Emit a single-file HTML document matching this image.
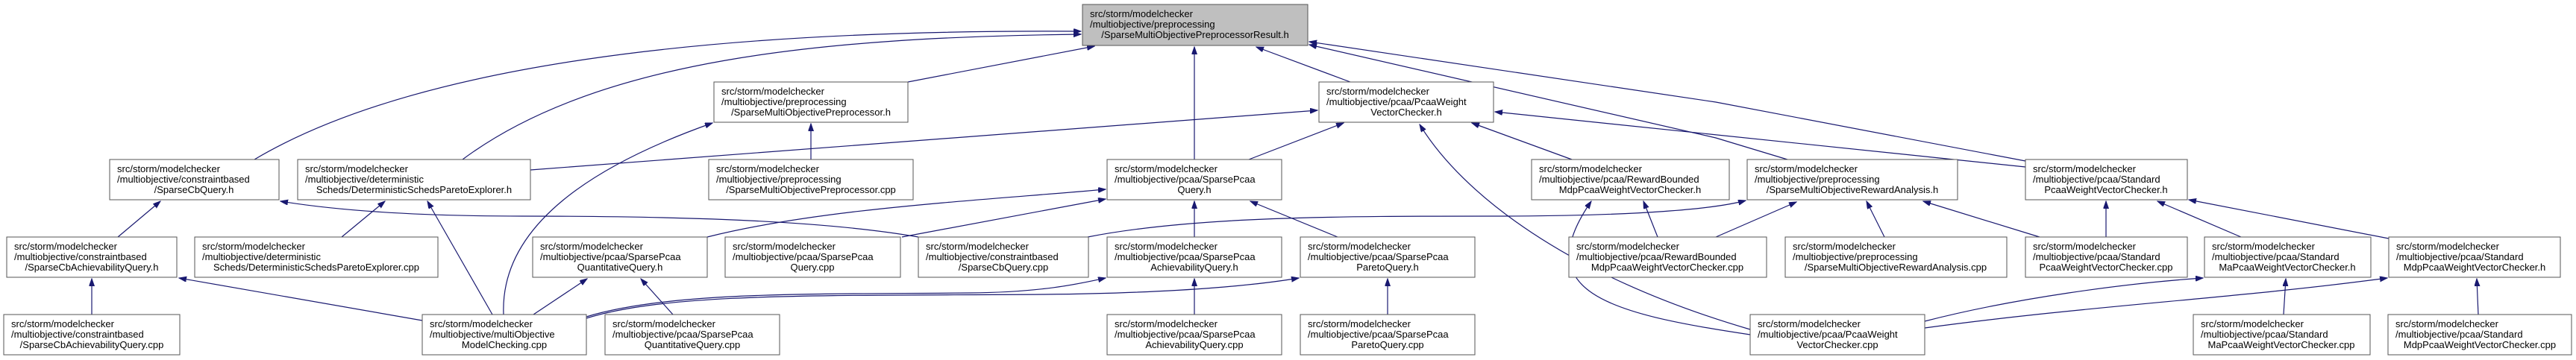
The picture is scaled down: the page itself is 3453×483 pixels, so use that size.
<!DOCTYPE html>
<html><head><meta charset="utf-8"><style>
html,body{margin:0;padding:0;background:#fff;}
svg{display:block;}
text{font-family:"Liberation Sans",sans-serif;font-size:13px;fill:#000;}
.b{fill:#fff;stroke:#555;stroke-width:1;}
.e{fill:none;stroke:#191970;stroke-width:1.2;marker-end:url(#a);}
</style></head><body>
<svg width="3453" height="483" viewBox="0 0 3453 483" xmlns="http://www.w3.org/2000/svg">
<defs><marker id="a" markerUnits="userSpaceOnUse" markerWidth="11" markerHeight="8" refX="10" refY="3.5" orient="auto"><path d="M0,0 L10,3.5 L0,7 z" fill="#191970" stroke="#191970"/></marker></defs>

<g>
<path class="e" d="M341,214 C600,60 1100,40 1449,42"/>
<path class="e" d="M620,214 C800,80 1100,50 1449,46"/>
<path class="e" d="M1217,110 L1467,62"/>
<path class="e" d="M1601,214 L1601,63"/>
<path class="e" d="M1810,110 L1684,63"/>
<path class="e" d="M2396,214 L2300,185 L1755,60"/>
<path class="e" d="M2715,216 L2300,137 L1755,56"/>
<path class="e" d="M1087,214 L1087,166"/>
<path class="e" d="M675,422 C670,300 800,220 955,165"/>
<path class="e" d="M711,228 L1766,148"/>
<path class="e" d="M1674,214 L1801,165"/>
<path class="e" d="M2107,214 L1973,165"/>
<path class="e" d="M2715,224 L2004,150"/>
<path class="e" d="M2346,442 C2100,370 1960,260 1903,167"/>
<path class="e" d="M158,318 L215,270"/>
<path class="e" d="M1231,318 C1100,295 900,290 700,290 C550,290 450,282 376,270"/>
<path class="e" d="M1209,318 L1482,267"/>
<path class="e" d="M948,318 C1100,280 1300,270 1482,254"/>
<path class="e" d="M1601,318 L1601,270"/>
<path class="e" d="M1793,318 L1676,270"/>
<path class="e" d="M458,318 L516,270"/>
<path class="e" d="M660,422 L573,270"/>
<path class="e" d="M123,422 L123,374"/>
<path class="e" d="M566,430 L240,373"/>
<path class="e" d="M715,422 L787,374"/>
<path class="e" d="M902,422 L859,374"/>
<path class="e" d="M786,425 C900,390 1100,395 1300,393 C1400,392 1450,380 1482,373"/>
<path class="e" d="M786,427 C900,392 1100,397 1400,395 C1600,393 1700,380 1741,373"/>
<path class="e" d="M1601,422 L1601,374"/>
<path class="e" d="M1860,422 L1860,374"/>
<path class="e" d="M2222,318 L2203,270"/>
<path class="e" d="M2346,449 C2150,420 2050,390 2133,270"/>
<path class="e" d="M1458,318 C1600,290 1800,290 2000,290 C2200,290 2300,280 2340,269"/>
<path class="e" d="M2300,318 L2408,271"/>
<path class="e" d="M2526,318 L2502,270"/>
<path class="e" d="M2734,318 L2578,270"/>
<path class="e" d="M2823,318 L2823,270"/>
<path class="e" d="M3004,318 L2892,270"/>
<path class="e" d="M3202,320 L2934,268"/>
<path class="e" d="M2580,431 C2700,400 2850,380 2953,373"/>
<path class="e" d="M2580,440 C2800,410 3000,400 3200,373"/>
<path class="e" d="M3061,422 L3064,374"/>
<path class="e" d="M3322,422 L3320,374"/>
</g>

<!-- Row 0 -->
<rect x="1451" y="6" width="302" height="55" style="fill:#bfbfbf;stroke:#555;"/>
<text x="1461" y="23">src/storm/modelchecker</text><text x="1461" y="37">/multiobjective/preprocessing</text><text x="1602" y="51" text-anchor="middle">/SparseMultiObjectivePreprocessorResult.h</text>

<!-- Row 1 -->
<rect class="b" x="957" y="110" width="260" height="54"/>
<text x="967" y="127">src/storm/modelchecker</text><text x="967" y="141">/multiobjective/preprocessing</text><text x="1087" y="155" text-anchor="middle">/SparseMultiObjectivePreprocessor.h</text>

<rect class="b" x="1768" y="110" width="234" height="54"/>
<text x="1778" y="127">src/storm/modelchecker</text><text x="1778" y="141">/multiobjective/pcaa/PcaaWeight</text><text x="1885" y="155" text-anchor="middle">VectorChecker.h</text>

<!-- Row 2 -->
<rect class="b" x="147" y="214" width="227" height="54"/>
<text x="157" y="231">src/storm/modelchecker</text><text x="157" y="245">/multiobjective/constraintbased</text><text x="260" y="259" text-anchor="middle">/SparseCbQuery.h</text>

<rect class="b" x="399" y="214" width="312" height="54"/>
<text x="409" y="231">src/storm/modelchecker</text><text x="409" y="245">/multiobjective/deterministic</text><text x="555" y="259" text-anchor="middle">Scheds/DeterministicSchedsParetoExplorer.h</text>

<rect class="b" x="950" y="214" width="274" height="54"/>
<text x="960" y="231">src/storm/modelchecker</text><text x="960" y="245">/multiobjective/preprocessing</text><text x="1087" y="259" text-anchor="middle">/SparseMultiObjectivePreprocessor.cpp</text>

<rect class="b" x="1484" y="214" width="234" height="54"/>
<text x="1494" y="231">src/storm/modelchecker</text><text x="1494" y="245">/multiobjective/pcaa/SparsePcaa</text><text x="1601" y="259" text-anchor="middle">Query.h</text>

<rect class="b" x="2053" y="214" width="265" height="54"/>
<text x="2063" y="231">src/storm/modelchecker</text><text x="2063" y="245">/multiobjective/pcaa/RewardBounded</text><text x="2185" y="259" text-anchor="middle">MdpPcaaWeightVectorChecker.h</text>

<rect class="b" x="2342" y="214" width="282" height="54"/>
<text x="2352" y="231">src/storm/modelchecker</text><text x="2352" y="245">/multiobjective/preprocessing</text><text x="2483" y="259" text-anchor="middle">/SparseMultiObjectiveRewardAnalysis.h</text>

<rect class="b" x="2715" y="214" width="217" height="54"/>
<text x="2725" y="231">src/storm/modelchecker</text><text x="2725" y="245">/multiobjective/pcaa/Standard</text><text x="2823" y="259" text-anchor="middle">PcaaWeightVectorChecker.h</text>

<!-- Row 3 -->
<rect class="b" x="9" y="318" width="228" height="54"/>
<text x="19" y="335">src/storm/modelchecker</text><text x="19" y="349">/multiobjective/constraintbased</text><text x="123" y="363" text-anchor="middle">/SparseCbAchievabilityQuery.h</text>

<rect class="b" x="261" y="318" width="326" height="54"/>
<text x="271" y="335">src/storm/modelchecker</text><text x="271" y="349">/multiobjective/deterministic</text><text x="424" y="363" text-anchor="middle">Scheds/DeterministicSchedsParetoExplorer.cpp</text>

<rect class="b" x="714" y="318" width="234" height="54"/>
<text x="724" y="335">src/storm/modelchecker</text><text x="724" y="349">/multiobjective/pcaa/SparsePcaa</text><text x="831" y="363" text-anchor="middle">QuantitativeQuery.h</text>

<rect class="b" x="972" y="318" width="235" height="54"/>
<text x="982" y="335">src/storm/modelchecker</text><text x="982" y="349">/multiobjective/pcaa/SparsePcaa</text><text x="1089" y="363" text-anchor="middle">Query.cpp</text>

<rect class="b" x="1231" y="318" width="228" height="54"/>
<text x="1241" y="335">src/storm/modelchecker</text><text x="1241" y="349">/multiobjective/constraintbased</text><text x="1345" y="363" text-anchor="middle">/SparseCbQuery.cpp</text>

<rect class="b" x="1484" y="318" width="234" height="54"/>
<text x="1494" y="335">src/storm/modelchecker</text><text x="1494" y="349">/multiobjective/pcaa/SparsePcaa</text><text x="1601" y="363" text-anchor="middle">AchievabilityQuery.h</text>

<rect class="b" x="1743" y="318" width="234" height="54"/>
<text x="1753" y="335">src/storm/modelchecker</text><text x="1753" y="349">/multiobjective/pcaa/SparsePcaa</text><text x="1860" y="363" text-anchor="middle">ParetoQuery.h</text>

<rect class="b" x="2103" y="318" width="265" height="54"/>
<text x="2113" y="335">src/storm/modelchecker</text><text x="2113" y="349">/multiobjective/pcaa/RewardBounded</text><text x="2235" y="363" text-anchor="middle">MdpPcaaWeightVectorChecker.cpp</text>

<rect class="b" x="2393" y="318" width="297" height="54"/>
<text x="2403" y="335">src/storm/modelchecker</text><text x="2403" y="349">/multiobjective/preprocessing</text><text x="2541" y="363" text-anchor="middle">/SparseMultiObjectiveRewardAnalysis.cpp</text>

<rect class="b" x="2715" y="318" width="217" height="54"/>
<text x="2725" y="335">src/storm/modelchecker</text><text x="2725" y="349">/multiobjective/pcaa/Standard</text><text x="2823" y="363" text-anchor="middle">PcaaWeightVectorChecker.cpp</text>

<rect class="b" x="2955" y="318" width="223" height="54"/>
<text x="2965" y="335">src/storm/modelchecker</text><text x="2965" y="349">/multiobjective/pcaa/Standard</text><text x="3066" y="363" text-anchor="middle">MaPcaaWeightVectorChecker.h</text>

<rect class="b" x="3202" y="318" width="230" height="54"/>
<text x="3212" y="335">src/storm/modelchecker</text><text x="3212" y="349">/multiobjective/pcaa/Standard</text><text x="3317" y="363" text-anchor="middle">MdpPcaaWeightVectorChecker.h</text>

<!-- Row 4 -->
<rect class="b" x="5" y="422" width="236" height="54"/>
<text x="15" y="439">src/storm/modelchecker</text><text x="15" y="453">/multiobjective/constraintbased</text><text x="123" y="467" text-anchor="middle">/SparseCbAchievabilityQuery.cpp</text>

<rect class="b" x="566" y="422" width="220" height="54"/>
<text x="576" y="439">src/storm/modelchecker</text><text x="576" y="453">/multiobjective/multiObjective</text><text x="676" y="467" text-anchor="middle">ModelChecking.cpp</text>

<rect class="b" x="811" y="422" width="234" height="54"/>
<text x="821" y="439">src/storm/modelchecker</text><text x="821" y="453">/multiobjective/pcaa/SparsePcaa</text><text x="928" y="467" text-anchor="middle">QuantitativeQuery.cpp</text>

<rect class="b" x="1484" y="422" width="234" height="54"/>
<text x="1494" y="439">src/storm/modelchecker</text><text x="1494" y="453">/multiobjective/pcaa/SparsePcaa</text><text x="1601" y="467" text-anchor="middle">AchievabilityQuery.cpp</text>

<rect class="b" x="1743" y="422" width="234" height="54"/>
<text x="1753" y="439">src/storm/modelchecker</text><text x="1753" y="453">/multiobjective/pcaa/SparsePcaa</text><text x="1860" y="467" text-anchor="middle">ParetoQuery.cpp</text>

<rect class="b" x="2346" y="422" width="234" height="54"/>
<text x="2356" y="439">src/storm/modelchecker</text><text x="2356" y="453">/multiobjective/pcaa/PcaaWeight</text><text x="2463" y="467" text-anchor="middle">VectorChecker.cpp</text>

<rect class="b" x="2940" y="422" width="237" height="54"/>
<text x="2950" y="439">src/storm/modelchecker</text><text x="2950" y="453">/multiobjective/pcaa/Standard</text><text x="3058" y="467" text-anchor="middle">MaPcaaWeightVectorChecker.cpp</text>

<rect class="b" x="3201" y="422" width="246" height="54"/>
<text x="3211" y="439">src/storm/modelchecker</text><text x="3211" y="453">/multiobjective/pcaa/Standard</text><text x="3324" y="467" text-anchor="middle">MdpPcaaWeightVectorChecker.cpp</text>
</svg>
</body></html>
